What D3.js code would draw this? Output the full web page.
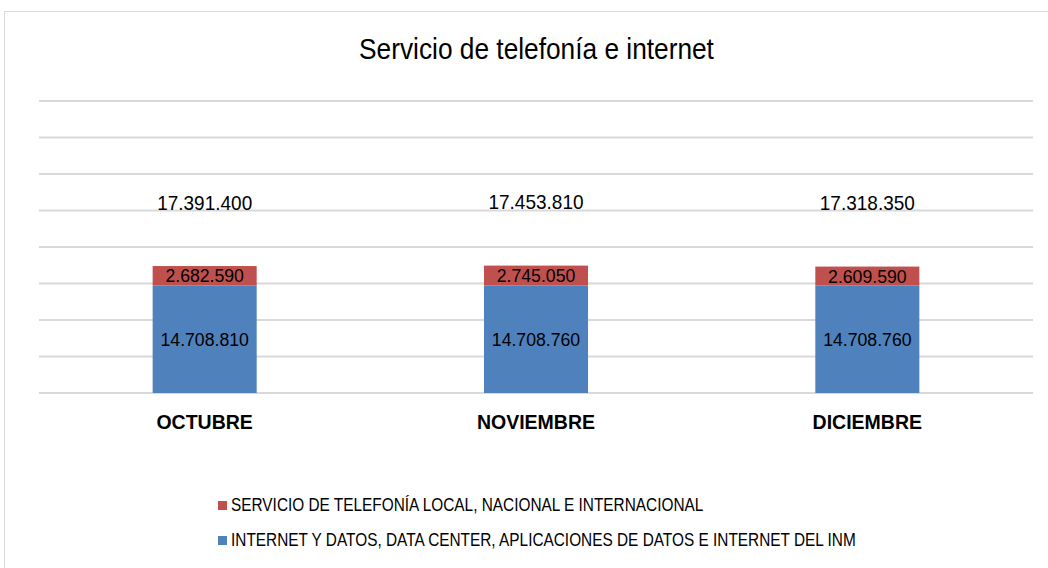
<!DOCTYPE html>
<html>
<head>
<meta charset="utf-8">
<script src="https://cdn.jsdelivr.net/npm/d3@7"></script>
<style>
  body { margin: 0; background: #fff; }
  text { font-family: "Liberation Sans", Arial, sans-serif; }
</style>
</head>
<body>
<div id="graph"></div>
<script>
const width = 1048
const height = 568

const months = ['OCTUBRE', 'NOVIEMBRE', 'DICIEMBRE']
const internet = [14708810, 14708760, 14708760]
const telefonia = [2682590, 2745050, 2609590]
const totals = [17391400, 17453810, 17318350]
const gridTicks = [0, 5e6, 10e6, 15e6, 20e6, 25e6, 30e6, 35e6, 40e6]

const seriesNames = [
  'SERVICIO DE TELEFONÍA LOCAL, NACIONAL E INTERNACIONAL',
  'INTERNET Y DATOS, DATA CENTER, APLICACIONES DE DATOS E INTERNET DEL INM'
]
const blue = '#4f81bd'
const red = '#c0504d'

const svg = d3.select('#graph')
  .append('svg')
  .attr('width', width)
  .attr('height', height)

// chart frame
svg.append('rect')
  .attr('x', 4.5).attr('y', 11.5)
  .attr('width', 1100).attr('height', 600)
  .attr('fill', '#fff')
  .attr('stroke', '#d9d9d9')

// narrow look: squeeze text horizontally
const squeeze = (tx, ty, s) => `translate(${tx},${ty}) scale(${s},1)`

svg.append('text')
  .attr('transform', squeeze(536.5, 58.5, 0.876))
  .attr('text-anchor', 'middle')
  .style('font-size', '30px')
  .attr('fill', '#000')
  .text('Servicio de telefonía e internet')

const x = d3.scaleBand()
  .domain(months)
  .range([39, 1033])
  .paddingInner(0.686)
  .paddingOuter(0.343)

const y = d3.scaleLinear().domain([0, 40e6]).range([393, 101])

const fmt = (v) => d3.format(',')(v).replace(/,/g, '.')

// gridlines
svg.append('g')
  .selectAll('line')
  .data(gridTicks)
  .join('line')
  .attr('x1', 39).attr('x2', 1033)
  .attr('y1', (d) => y(d)).attr('y2', (d) => y(d))
  .attr('stroke', '#d9d9d9')
  .attr('stroke-width', 2)

const stacked = months.map((m, i) => ({
  m,
  segs: [
    {y0: 0, y1: internet[i], color: blue, v: internet[i]},
    {y0: internet[i], y1: internet[i] + telefonia[i], color: red, v: telefonia[i]},
    {y0: internet[i] + telefonia[i], y1: internet[i] + telefonia[i] + totals[i], color: 'none', v: totals[i]}
  ]
}))

const groups = svg.append('g')
  .selectAll('g')
  .data(stacked)
  .join('g')

groups.selectAll('rect')
  .data((d) => d.segs.filter((s) => s.color !== 'none').map((s) => ({...s, m: d.m})))
  .join('rect')
  .attr('x', (d) => x(d.m))
  .attr('width', x.bandwidth())
  .attr('y', (d) => y(d.y1))
  .attr('height', (d) => y(d.y0) - y(d.y1))
  .attr('fill', (d) => d.color)

groups.selectAll('text')
  .data((d) => d.segs.map((s) => ({...s, m: d.m})))
  .join('text')
  .attr('transform', (d) => squeeze(x(d.m) + x.bandwidth() / 2, (y(d.y0) + y(d.y1)) / 2, d.color === 'none' ? 0.95 : 0.93))
  .attr('dy', '0.35em')
  .attr('text-anchor', 'middle')
  .style('font-size', (d) => d.color === 'none' ? '20px' : '19px')
  .attr('fill', '#000')
  .text((d) => fmt(d.v))

// category labels
svg.append('g')
  .selectAll('text')
  .data(months)
  .join('text')
  .attr('x', (d) => x(d) + x.bandwidth() / 2)
  .attr('y', 429)
  .attr('text-anchor', 'middle')
  .style('font-size', '19.5px')
  .style('font-weight', 'bold')
  .attr('fill', '#000')
  .text((d) => d)

// legend
const legend = svg.append('g')
  .selectAll('g')
  .data(seriesNames)
  .join('g')
  .attr('transform', (d, i) => `translate(218, ${501 + i * 35})`)

legend.append('rect')
  .attr('x', 0).attr('y', 0)
  .attr('width', 9).attr('height', 9)
  .attr('fill', (d, i) => i === 0 ? red : blue)

legend.append('text')
  .attr('transform', squeeze(13, 10, 0.855))
  .style('font-size', '18px')
  .attr('fill', '#000')
  .text((d) => d)
</script>
</body>
</html>
